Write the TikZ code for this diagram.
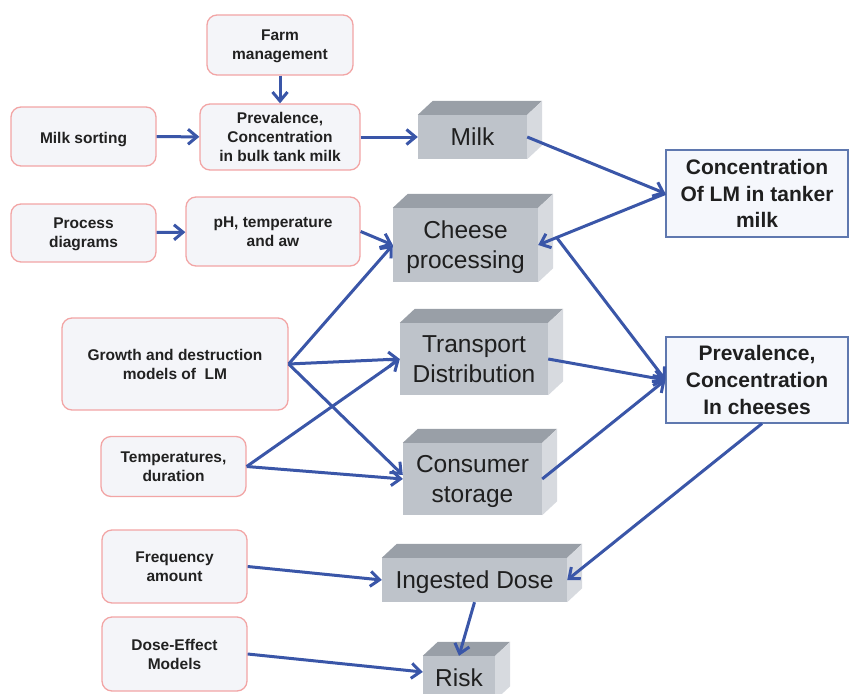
\documentclass[tikz,border=0pt]{standalone}
\usepackage{fontspec}
\setmainfont{Liberation Sans}
\usetikzlibrary{arrows.meta}

\definecolor{linkblue}{RGB}{58,86,168}
\definecolor{softred}{RGB}{242,165,165}
\definecolor{softfill}{RGB}{244,245,249}
\definecolor{frameblue}{RGB}{95,120,175}
\definecolor{framefill}{RGB}{245,247,252}
\definecolor{cubefront}{RGB}{190,195,202}
\definecolor{cubetop}{RGB}{153,159,167}
\definecolor{cubeside}{RGB}{215,218,223}

\tikzset{
  inputbox/.style={draw=softred, line width=1.3pt, fill=softfill, rounded corners=10pt,
    inner sep=0pt, align=center, text=black!87, text depth=0pt,
    execute at begin node={\rule{0pt}{14.5pt}},
    font=\fontsize{15.5}{19.2}\selectfont\bfseries},
  cube/.style={fill=cubefront, inner sep=0pt, align=center, text depth=0pt,
    font=\fontsize{24.5}{30}\selectfont, text=black!88},
  resultbox/.style={draw=frameblue, line width=1.1pt, fill=framefill, inner sep=0pt,
    align=center, text depth=0pt, font=\fontsize{21}{26.8}\selectfont\bfseries, text=black!88},
  link/.style={draw=linkblue, line width=3pt,
    -{Straight Barb[length=9pt,width=15pt,line width=3pt]}}
}

\begin{document}
\begin{tikzpicture}[x=1pt,y=-1pt]
\useasboundingbox (0,0) rectangle (850,693);
\clip (0,0) rectangle (850,693);

% input boxes
\node[inputbox, minimum width=146pt, minimum height=60pt] (farm) at (280,45) {Farm\\management};
\node[inputbox, minimum width=145pt, minimum height=59pt] (sorting) at (83.5,136.5) {Milk sorting};
\node[inputbox, minimum width=160pt, minimum height=66pt] (bulk) at (280,137) {Prevalence,\\Concentration\\in bulk tank milk};
\node[inputbox, minimum width=145pt, minimum height=58pt] (process) at (83.5,233) {Process\\diagrams};
\node[inputbox, minimum width=174pt, minimum height=69pt] (ph) at (273,231.5) {pH, temperature\\and aw};
\node[inputbox, minimum width=226pt, minimum height=92pt] (growth) at (175,364) {Growth and destruction\\models of~~LM};
\node[inputbox, minimum width=145pt, minimum height=60pt] (temps) at (173.5,466.5) {Temperatures,\\duration};
\node[inputbox, minimum width=145pt, minimum height=73pt] (freq) at (174.5,566.5) {Frequency\\amount};
\node[inputbox, minimum width=145pt, minimum height=74pt] (doseeff) at (174.5,654) {Dose-Effect\\Models};

% process stages drawn as cuboids
\node[cube, minimum width=109pt, minimum height=44pt] (milk) at (472.5,137) {Milk};
\node[cube, minimum width=145pt, minimum height=74pt] (cheese) at (465.5,245) {Cheese\\processing};
\node[cube, minimum width=148pt, minimum height=72pt] (transport) at (474,359) {Transport\\Distribution};
\node[cube, minimum width=139pt, minimum height=72pt] (consumer) at (472.5,479) {Consumer\\storage};
\node[cube, minimum width=185pt, minimum height=44pt] (dose) at (474.5,580) {Ingested Dose};
\node[cube, minimum width=72pt, minimum height=44pt] (risk) at (459,678) {Risk};

\foreach \n in {milk,cheese,transport,consumer,dose,risk}{
  \fill[cubetop] (\n.north west) -- ++(15,-14) -- ([shift={(15,-14)}]\n.north east) -- (\n.north east) -- cycle;
  \fill[cubeside] (\n.north east) -- ++(15,-14) -- ([shift={(15,-14)}]\n.south east) -- (\n.south east) -- cycle;
}

% results
\node[resultbox, minimum width=182pt, minimum height=87pt] (tanker) at (757,193.5) {Concentration\\Of LM in tanker\\milk};
\node[resultbox, minimum width=182pt, minimum height=86pt] (incheese) at (757,380) {Prevalence,\\Concentration\\In cheeses};

\coordinate (cheeseout) at (557,238);

% connectors
\draw[link] (farm) -- (bulk);
\draw[link] (sorting) -- (bulk);
\draw[link] (bulk) -- (milk);
\draw[link] (milk.east) -- (tanker.west);
\draw[link] (tanker.west) -- (cheese.east);
\draw[link] (process) -- (ph);
\draw[link] (ph.east) -- (cheese.west);
\draw[link] (growth.east) -- (cheese.west);
\draw[link] (growth.east) -- (transport.west);
\draw[link] (growth.east) -- ([yshift=4pt]consumer.west);
\draw[link] (temps.east) -- (transport.west);
\draw[link] (temps.east) -- (consumer.west);
\draw[link] (cheeseout) -- (incheese.west);
\draw[link] (transport.east) -- (incheese.west);
\draw[link] (consumer.east) -- (incheese.west);
\draw[link] ([xshift=5pt]incheese.south) -- (dose.east);
\draw[link] (freq.east) -- (dose.west);
\draw[link] (dose.south) -- (risk.north);
\draw[link] (doseeff.east) -- ([yshift=6pt]risk.west);
\end{tikzpicture}
\end{document}
